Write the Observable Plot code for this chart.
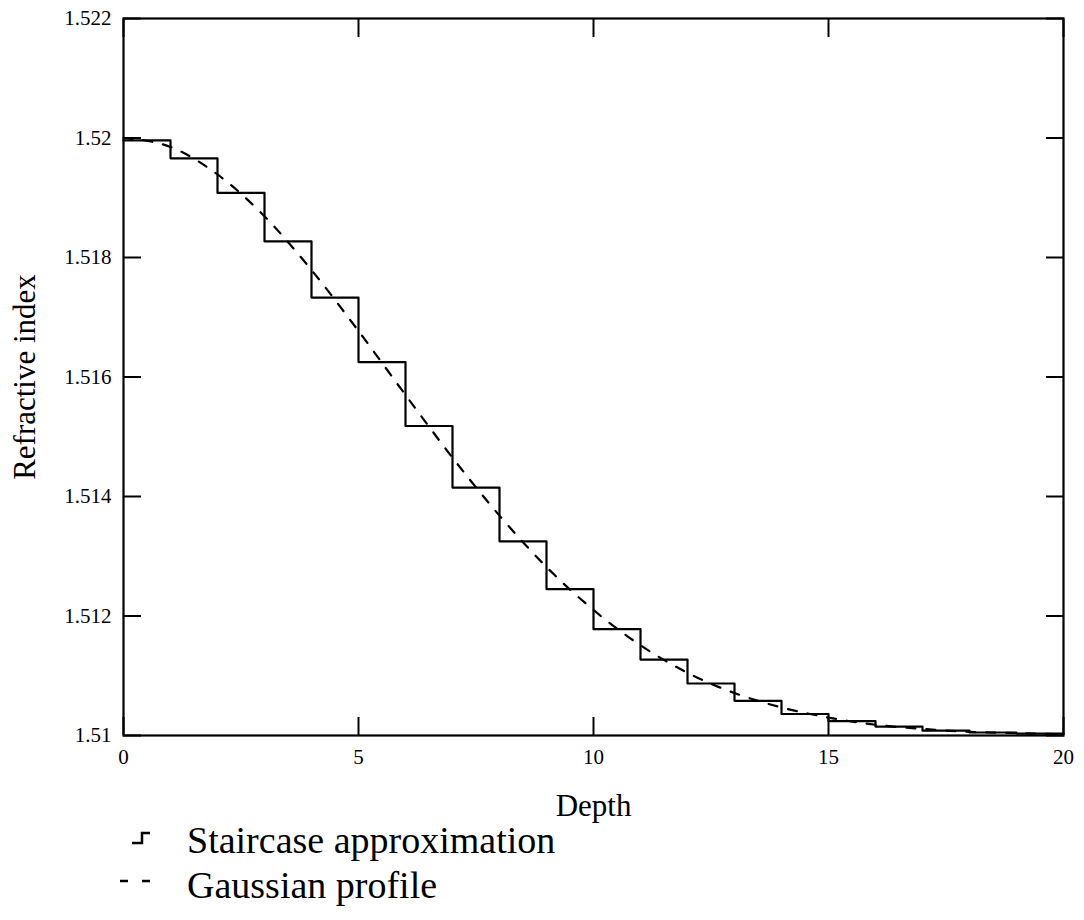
<!DOCTYPE html>
<html>
<head>
<meta charset="utf-8">
<script src="https://cdn.jsdelivr.net/npm/d3@7"></script>
<script src="https://cdn.jsdelivr.net/npm/@observablehq/plot@0.6"></script>
<style>
  body { margin: 0; background: #fff; font-family: "Liberation Serif", Tinos, "DejaVu Serif", serif; }
  #chart svg, #chart svg text { font-family: "Liberation Serif", Tinos, "DejaVu Serif", serif !important; }
  #chart svg g[aria-label="x-axis label"], #chart svg g[aria-label="y-axis label"] { font-size: 31px; }
  #legend { position: relative; width: 1084px; height: 90px; margin-top: -12px; }
  .row { position: relative; height: 45px; line-height: 45px; font-size: 38px; color: #000; }
  .row span { position: absolute; left: 187px; top: 0; white-space: nowrap; }
  .row svg { position: absolute; left: 110px; top: 0; }
</style>
</head>
<body>
<div id="chart"></div>
<div id="legend"></div>
<script>
// ---- data ----
const stepEdges = [0, 1, 2, 3, 4, 5, 6, 7, 8, 9, 10, 11, 12, 13, 14, 15, 16, 17, 18, 19, 20];
const staircaseIndex = [1.51996, 1.51966, 1.51908, 1.51827, 1.51733, 1.51625, 1.51518, 1.51415, 1.51325, 1.51245,
                        1.51178, 1.51127, 1.51087, 1.51058, 1.51036, 1.51024, 1.51015, 1.51008, 1.51005, 1.51003];
const profileDepth = [0, 1, 2, 3, 4, 5, 6, 7, 8, 9, 10, 11, 12, 13, 14, 15, 16, 17, 18, 19, 20];
const profileIndex = [1.52, 1.51985, 1.51939, 1.51869, 1.51779, 1.51677, 1.51570, 1.51465, 1.51368, 1.51282,
                      1.51210, 1.51151, 1.51105, 1.51071, 1.51047, 1.51030, 1.51018, 1.51011, 1.51006, 1.51004, 1.51002];
const xTickValues = [0, 5, 10, 15, 20];
const yTickValues = [1.51, 1.512, 1.514, 1.516, 1.518, 1.52, 1.522];
const xLabel = "Depth";
const yLabel = "Refractive index";
const legendLabels = ["Staircase approximation", "Gaussian profile"];

// ---- build tables ----
const stairs = stepEdges.map((x, i) => ({x, y: staircaseIndex[Math.min(i, staircaseIndex.length - 1)]}));
const profile = profileDepth.map((x, i) => ({x, y: profileIndex[i]}));
const fmtY = d => String(+d.toFixed(3));
const blank = () => "";

const chart = Plot.plot({
  width: 1084,
  height: 830,
  marginTop: 18,
  marginRight: 21,
  marginBottom: 95,
  marginLeft: 123,
  style: {fontSize: "21px", color: "#000", background: "#fff"},
  x: {domain: [0, 20]},
  y: {domain: [1.51, 1.522]},
  marks: [
    Plot.line(profile, {x: "x", y: "y", curve: "monotone-x", stroke: "#000", strokeWidth: 2.2, strokeDasharray: "9,11"}),
    Plot.line(stairs, {x: "x", y: "y", curve: "step-after", stroke: "#000", strokeWidth: 2.2}),
    Plot.axisX({anchor: "bottom", ticks: xTickValues, tickSize: 0, tickPadding: 14, tickFormat: d => String(d),
                label: xLabel, labelAnchor: "center", labelOffset: 80, labelArrow: "none"}),
    Plot.axisX({anchor: "bottom", ticks: xTickValues, tickSize: -18, tickFormat: blank, label: null, strokeWidth: 2}),
    Plot.axisX({anchor: "top", ticks: xTickValues, tickSize: -18, tickFormat: blank, label: null, strokeWidth: 2}),
    Plot.axisY({anchor: "left", ticks: yTickValues, tickSize: 0, tickPadding: 12, tickFormat: fmtY,
                label: yLabel, labelAnchor: "center", labelOffset: 111, labelArrow: "none"}),
    Plot.axisY({anchor: "left", ticks: yTickValues, tickSize: -18, tickFormat: blank, label: null, strokeWidth: 2}),
    Plot.axisY({anchor: "right", ticks: yTickValues, tickSize: -18, tickFormat: blank, label: null, strokeWidth: 2}),
    Plot.frame({stroke: "#000", strokeWidth: 2.2})
  ]
});
document.getElementById("chart").appendChild(chart);

// ---- legend ----
const legend = document.getElementById("legend");
const symbols = [
  '<svg width="44" height="45"><path d="M22,25 H32 V15 H40" fill="none" stroke="#000" stroke-width="2.5"/></svg>',
  '<svg width="44" height="45"><path d="M10,18 H18 M32,18 H40" fill="none" stroke="#000" stroke-width="2.5"/></svg>'
];
legendLabels.forEach((t, i) => {
  const row = document.createElement("div");
  row.className = "row";
  row.innerHTML = symbols[i] + "<span></span>";
  row.querySelector("span").textContent = t;
  legend.appendChild(row);
});
</script>
</body>
</html>
